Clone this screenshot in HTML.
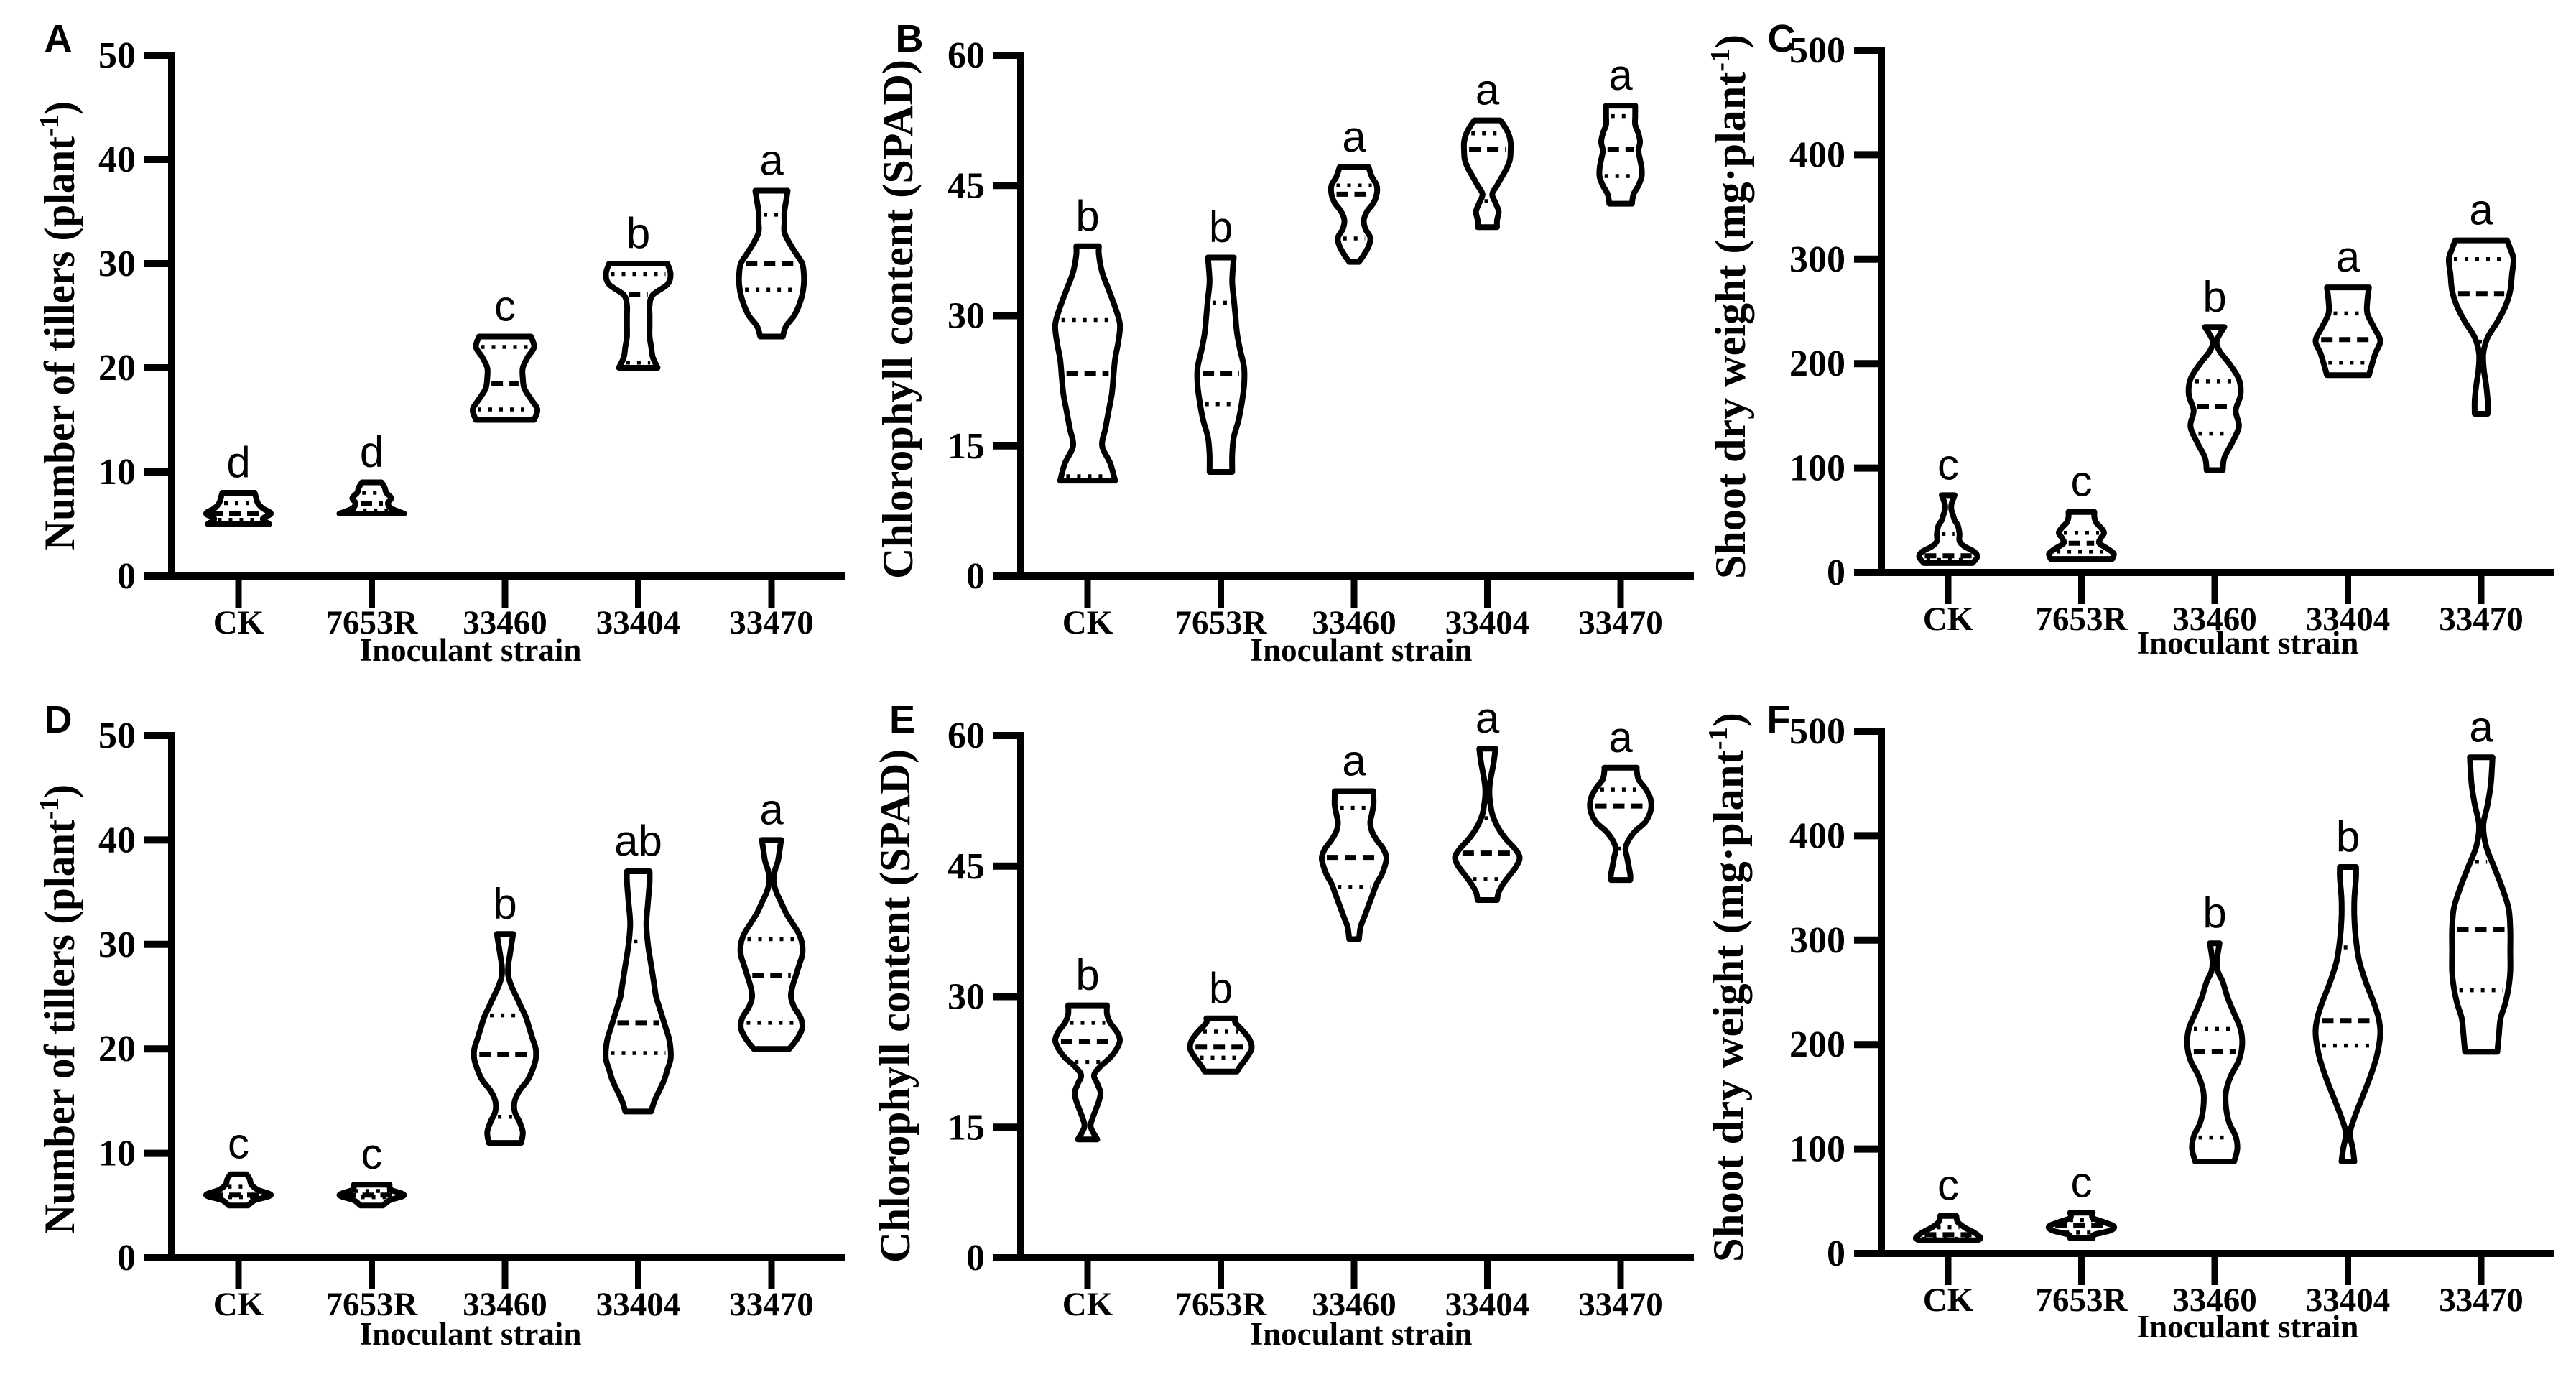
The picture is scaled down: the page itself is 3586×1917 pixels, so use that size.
<!DOCTYPE html>
<html><head><meta charset="utf-8"><style>
html,body{margin:0;padding:0;background:#fff;}
svg{display:block;}
</style></head><body>
<svg id="fig" width="3586" height="1917" viewBox="0 0 3586 1917" xmlns="http://www.w3.org/2000/svg"></svg>
<script>
// ===== Data =====
const categories = ["CK","7653R","33460","33404","33470"];

// Panel A: number of tillers (exp 1)
const A_max=[8,9,23,30,37], A_min=[5,6,15,20,23], A_med=[6,7,18.5,27,30], A_q1=[5.4,6.3,16,20.5,27.5], A_q3=[7,8,22,29,34.7];
const A_letters=["d","d","c","b","a"];
const A_profV=[[5,5.5,6,6.5,7,7.5,8],[6,6.5,7,7.5,8,8.5,9],[15,16,17,18,19,20,21,22,23],[20,21,22,23,24,25,26,27,28,29,30],[23,24,25,26,27,28,29,30,31,32,33,34,35,36,37]];
const A_profW=[[0.95,0.75,1.0,0.75,0.6,0.55,0.5],[1.0,0.6,0.5,0.6,0.45,0.4,0.3],[0.9,1.0,0.8,0.6,0.55,0.55,0.7,0.9,0.8],[0.6,0.45,0.4,0.35,0.35,0.35,0.35,0.45,0.9,1.0,0.9],[0.35,0.45,0.7,0.85,0.95,1.0,1.0,0.95,0.75,0.55,0.4,0.4,0.4,0.45,0.5]];
const A_ticks=[0,10,20,30,40,50];

// Panel B: chlorophyll (exp 1)
const B_max=[38,36.7,47.1,52.5,54.2], B_min=[11,12,36.2,40.2,42.9], B_med=[23.3,23.3,44,49.2,49.2], B_q1=[11.5,19.8,38.9,43.2,46.1], B_q3=[29.5,31.5,45,51,53];
const B_letters=["b","b","a","a","a"];
const B_profV=[[11,13,15,17,19,21,23,25,27,29,31,33,35,37,38],[12,14,16,18,20,22,24,26,28,30,32,34,36.7],[36.2,37,38,39,40,41,42,43,44,45,46,47.1],[40.2,41,42,43,44,45,46,47,48,49,50,51,52,52.5],[42.9,44,45,46,47,48,49,50,51,52,53,54.2]];
const B_profW=[[0.85,0.7,0.45,0.55,0.65,0.75,0.8,0.85,0.95,1.0,0.85,0.65,0.45,0.35,0.35],[0.35,0.35,0.4,0.55,0.65,0.72,0.72,0.6,0.5,0.45,0.4,0.35,0.4],[0.15,0.3,0.45,0.5,0.35,0.3,0.4,0.6,0.7,0.7,0.55,0.45],[0.3,0.3,0.35,0.25,0.15,0.3,0.45,0.6,0.7,0.72,0.72,0.65,0.5,0.4],[0.35,0.4,0.55,0.65,0.65,0.6,0.55,0.6,0.55,0.45,0.45,0.45]];
const B_ticks=[0,15,30,45,60];

// Panel C: shoot dry weight (exp 1)
const C_max=[74,58,235,273,318], C_min=[9,13,98,189,152], C_med=[16,28,159,223,267], C_q1=[12,20,133,201,221], C_q3=[37,38,183,248,300];
const C_letters=["c","c","b","a","a"];
const C_profV=[[9,15,20,25,30,37,45,50,55,60,65,70,74],[13,18,23,28,33,38,43,48,53,58],[98,110,125,140,155,170,185,200,212,222,235],[189,200,210,222,235,248,260,273],[152,165,180,195,210,225,240,255,270,285,300,310,318]];
const C_profW=[[0.75,0.9,0.8,0.5,0.35,0.35,0.3,0.2,0.15,0.1,0.1,0.15,0.2],[0.95,1.0,0.8,0.55,0.6,0.7,0.6,0.45,0.4,0.4],[0.25,0.3,0.55,0.75,0.65,0.8,0.75,0.45,0.15,0.05,0.3],[0.65,0.75,0.85,1.0,0.8,0.6,0.6,0.65],[0.2,0.2,0.15,0.08,0.05,0.2,0.5,0.75,0.9,0.95,1.0,0.9,0.8]];
const C_ticks=[0,100,200,300,400,500];

// Panel D: number of tillers (exp 2)
const D_max=[8,7,31,37,40], D_min=[5,5,11,14,20], D_med=[6,6,19.5,22.5,27], D_q1=[5.8,5.8,13.5,19.6,22.5], D_q3=[6.8,6.4,23.2,30.3,30.5];
const D_letters=["c","c","b","ab","a"];
const D_profV=[[5,5.5,6,6.5,7,7.5,8],[5,5.5,6,6.5,7],[11,12,13,14,15,16,17,18,19,20,21,22,23,24,25,26,27,28,29,30,31],[14,15,16,17,18,19,20,21,22,23,24,25,26,27,28,30,32,34,36,37],[20,21,22,23,24,25,26,27,28,29,30,31,32,33,34,35,36,37,38,39,40]];
const D_profW=[[0.3,0.5,1.0,0.6,0.4,0.35,0.25],[0.35,0.55,1.0,0.6,0.55],[0.5,0.55,0.45,0.3,0.3,0.45,0.7,0.85,0.95,0.95,0.85,0.75,0.65,0.5,0.35,0.2,0.1,0.1,0.15,0.2,0.25],[0.4,0.5,0.65,0.8,0.9,1.0,1.0,0.95,0.85,0.75,0.65,0.55,0.5,0.45,0.4,0.3,0.25,0.3,0.35,0.35],[0.55,0.8,0.95,0.9,0.7,0.6,0.65,0.75,0.85,0.95,0.95,0.85,0.65,0.45,0.3,0.15,0.05,0.1,0.2,0.25,0.3]];
const D_ticks=[0,10,20,30,40,50];

// Panel E: chlorophyll (exp 2)
const E_max=[29,27.5,53.6,58.5,56.3], E_min=[13.6,21.4,36.6,41.1,43.4], E_med=[24.8,24.2,46,46.5,51.9], E_q1=[22.5,23,42.6,43.5,47], E_q3=[27,26,51.7,50.5,53.8];
const E_letters=["b","b","a","a","a"];
const E_profV=[[13.6,15,16,17,18,19,20,21,22,23,24,25,26,27,28,29],[21.4,22,23,24,25,26,27,27.5],[36.6,38,39,40,41,42,43,44,45,46,47,48,49,50,51,52,53,53.6],[41.1,42,43,44,45,46,47,48,49,50,51,52,53,54,55,56,57,58.5],[43.4,44,45,46,47,48,49,50,51,52,53,54,55,56,56.3]];
const E_profW=[[0.3,0.1,0.15,0.25,0.35,0.4,0.3,0.2,0.4,0.7,0.9,1.0,0.9,0.7,0.6,0.6],[0.5,0.6,0.8,0.95,0.9,0.7,0.45,0.45],[0.15,0.2,0.3,0.4,0.5,0.6,0.7,0.85,0.95,1.0,0.9,0.7,0.55,0.5,0.55,0.6,0.6,0.6],[0.3,0.35,0.5,0.7,0.9,1.0,0.85,0.6,0.4,0.25,0.15,0.1,0.05,0.05,0.1,0.15,0.2,0.25],[0.3,0.3,0.25,0.2,0.15,0.25,0.45,0.75,0.9,0.95,0.9,0.75,0.55,0.5,0.5]];
const E_ticks=[0,15,30,45,60];

// Panel F: shoot dry weight (exp 2)
const F_max=[36,39,297,370,475], F_min=[12.6,14.7,88,88,193], F_med=[18,26.5,193,223,310], F_q1=[14,20,111,199,252], F_q3=[25,32,215,293,375];
const F_letters=["c","c","b","b","a"];
const F_profV=[[12.6,15,20,25,30,36],[14.7,18,22,26,30,34,39],[88,100,112,125,140,155,170,185,200,215,230,245,260,270,280,297],[88,100,115,130,150,170,190,210,225,240,260,280,300,320,340,360,370],[193,210,225,240,255,270,290,310,330,350,370,390,410,430,450,475]];
const F_profW=[[0.9,1.0,0.8,0.5,0.3,0.25],[0.35,0.4,0.9,1.0,0.7,0.35,0.35],[0.6,0.7,0.65,0.45,0.35,0.35,0.5,0.75,0.85,0.8,0.6,0.4,0.25,0.1,0.05,0.15],[0.2,0.15,0.05,0.2,0.45,0.7,0.9,1.0,0.95,0.8,0.55,0.35,0.25,0.2,0.2,0.25,0.25],[0.5,0.55,0.6,0.75,0.85,0.9,0.9,0.9,0.85,0.65,0.4,0.15,0.05,0.2,0.3,0.35]];
const F_ticks=[0,100,200,300,400,500];

// ===== Layout (positions only) =====
const NS="http://www.w3.org/2000/svg";
const svg=document.getElementById("fig");
function mk(tag,attrs,parent){const e=document.createElementNS(NS,tag);for(const k in attrs)e.setAttribute(k,attrs[k]);(parent||svg).appendChild(e);return e;}

const panels=[
 {id:"a",letter:"A",ax:239,top:77,bot:802,ymax:50,ticks:A_ticks,max:A_max,min:A_min,med:A_med,q1:A_q1,q3:A_q3,lett:A_letters,pv:A_profV,pw:A_profW,title:"Number of tillers (plant",sup:"-1",tail:")",tx:83,ty1:141,ty2:766,lx:81,ly:72,xt:655,xty:920},
 {id:"b",letter:"B",ax:1421,top:77,bot:802,ymax:60,ticks:B_ticks,max:B_max,min:B_min,med:B_med,q1:B_q1,q3:B_q3,lett:B_letters,pv:B_profV,pw:B_profW,title:"Chlorophyll  content (SPAD)",sup:"",tail:"",tx:1250,ty1:83,ty2:806,lx:1266,ly:72,xt:1895,xty:920},
 {id:"c",letter:"C",ax:2619,top:70,bot:797,ymax:500,ticks:C_ticks,max:C_max,min:C_min,med:C_med,q1:C_q1,q3:C_q3,lett:C_letters,pv:C_profV,pw:C_profW,title:"Shoot dry weight (mg·plant",sup:"-1",tail:")",tx:2409,ty1:48,ty2:806,lx:2480,ly:72,xt:3129,xty:910},
 {id:"d",letter:"D",ax:239,top:1024,bot:1751,ymax:50,ticks:D_ticks,max:D_max,min:D_min,med:D_med,q1:D_q1,q3:D_q3,lett:D_letters,pv:D_profV,pw:D_profW,title:"Number of tillers (plant",sup:"-1",tail:")",tx:83,ty1:1092,ty2:1718,lx:81,ly:1020,xt:655,xty:1872},
 {id:"e",letter:"E",ax:1421,top:1024,bot:1751,ymax:60,ticks:E_ticks,max:E_max,min:E_min,med:E_med,q1:E_q1,q3:E_q3,lett:E_letters,pv:E_profV,pw:E_profW,title:"Chlorophyll  content (SPAD)",sup:"",tail:"",tx:1246,ty1:1043,ty2:1758,lx:1256,ly:1020,xt:1895,xty:1872},
 {id:"f",letter:"F",ax:2619,top:1018,bot:1745,ymax:500,ticks:F_ticks,max:F_max,min:F_min,med:F_med,q1:F_q1,q3:F_q3,lett:F_letters,pv:F_profV,pw:F_profW,title:"Shoot dry weight (mg·plant",sup:"-1",tail:")",tx:2406,ty1:992,ty2:1757,lx:2476,ly:1020,xt:3129,xty:1862}
];

const HALF=45, STEP=185.5, FIRST=93;

function interpW(vs,ws,v){
  if(v<=vs[0])return ws[0];
  for(let i=1;i<vs.length;i++){if(v<=vs[i]){const t=(v-vs[i-1])/(vs[i]-vs[i-1]);return ws[i-1]+t*(ws[i]-ws[i-1]);}}
  return ws[ws.length-1];
}
function catmull(pts){
  let d="";
  for(let i=0;i<pts.length-1;i++){
    const p0=pts[Math.max(0,i-1)],p1=pts[i],p2=pts[i+1],p3=pts[Math.min(pts.length-1,i+2)];
    const c1=[p1[0]+(p2[0]-p0[0])/6,p1[1]+(p2[1]-p0[1])/6];
    const c2=[p2[0]-(p3[0]-p1[0])/6,p2[1]-(p3[1]-p1[1])/6];
    d+=` C${c1[0].toFixed(1)},${c1[1].toFixed(1)} ${c2[0].toFixed(1)},${c2[1].toFixed(1)} ${p2[0].toFixed(1)},${p2[1].toFixed(1)}`;
  }
  return d;
}

panels.forEach(p=>{
  const g=mk("g",{});
  
  
  const y=v=>p.bot-(v/p.ymax)*(p.bot-p.top);
  const xc=i=>p.ax+FIRST+i*STEP;
  const xStart=p.ax-38, xEnd=p.ax+937;

  const L=mk("text",{x:p.lx,y:p.ly,"font-family":"Liberation Sans, sans-serif","font-weight":"bold","font-size":54,"text-anchor":"middle"},g);
  L.textContent=p.letter;
  
  

  const ya=mk("line",{x1:p.ax,y1:p.top-5,x2:p.ax,y2:p.bot+5,stroke:"#000","stroke-width":10},g);
  
  
  p.ticks.forEach(t=>{
    const yy=y(t);
    const tl=mk("line",{x1:xStart,y1:yy,x2:p.ax,y2:yy,stroke:"#000","stroke-width":10},g);
    
    
    const tt=mk("text",{x:p.ax-50,y:yy+17,"font-family":"Liberation Serif, serif","font-weight":"bold","font-size":52,"text-anchor":"end"},g);
    tt.textContent=t;
    
    
  });
  const xa=mk("line",{x1:xStart,y1:p.bot,x2:xEnd,y2:p.bot,stroke:"#000","stroke-width":10},g);
  
  
  categories.forEach((c,i)=>{
    const tk=mk("line",{x1:xc(i),y1:p.bot,x2:xc(i),y2:p.bot+44,stroke:"#000","stroke-width":9},g);
    
    
    const tl=mk("text",{x:xc(i),y:p.bot+80,"font-family":"Liberation Serif, serif","font-weight":"bold","font-size":47,"text-anchor":"middle"},g);
    tl.textContent=c;
    
    
  });
  const xt=mk("text",{x:p.xt,y:p.xty,"font-family":"Liberation Serif, serif","font-weight":"bold","font-size":45,"text-anchor":"middle"},g);
  xt.textContent="Inoculant strain";
  
  

  const len=p.ty2-p.ty1, cy=(p.ty1+p.ty2)/2;
  const yt=mk("text",{x:0,y:0,transform:`translate(${p.tx+20},${cy}) rotate(-90)`,"font-family":"Liberation Serif, serif","font-weight":"bold","font-size":60,"text-anchor":"middle",textLength:len,lengthAdjust:"spacingAndGlyphs"},g);
  
  
  const s1=mk("tspan",{},yt); s1.textContent=p.title;
  if(p.sup){const s2=mk("tspan",{dy:-22,"font-size":38},yt); s2.textContent=p.sup; const s3=mk("tspan",{dy:22},yt); s3.textContent=p.tail;}

  categories.forEach((c,i)=>{
    const vs=p.pv[i], ws=p.pw[i], cx=xc(i);
    const right=vs.map((v,k)=>[cx+Math.max(ws[k]*HALF,3),y(v)]);
    const left=vs.map((v,k)=>[cx-Math.max(ws[k]*HALF,3),y(v)]).reverse();
    let d=`M${right[0][0].toFixed(1)},${right[0][1].toFixed(1)}`+catmull(right);
    d+=` L${left[0][0].toFixed(1)},${left[0][1].toFixed(1)}`+catmull(left)+" Z";
    const vp=mk("path",{d:d,fill:"#fff",stroke:"#000","stroke-width":8,"stroke-linejoin":"round"},g);
    
    
    [p.q1[i],p.q3[i]].forEach(q=>{
      const w=Math.max(interpW(vs,ws,q)*HALF-7,4);
      const ql=mk("line",{x1:cx-w,y1:y(q),x2:cx+w,y2:y(q),stroke:"#000","stroke-width":5.5,"stroke-dasharray":"5 10"},g);
      
      
    });
    const mw=Math.max(interpW(vs,ws,p.med[i])*HALF-7,4);
    const ml=mk("line",{x1:cx-mw,y1:y(p.med[i]),x2:cx+mw,y2:y(p.med[i]),stroke:"#000","stroke-width":7,"stroke-dasharray":"16 9"},g);
    
    
    const st=mk("text",{x:cx,y:y(p.max[i])-22,"font-family":"Liberation Sans, sans-serif","font-size":60,"text-anchor":"middle"},g);
    st.textContent=p.lett[i];
    
    
  });
});
</script>
</body></html>
